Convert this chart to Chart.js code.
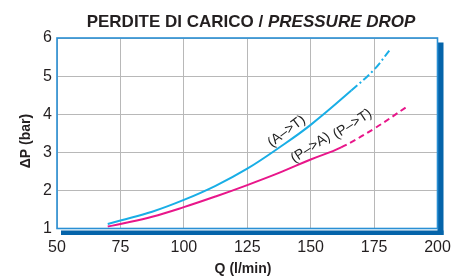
<!DOCTYPE html>
<html>
<head>
<meta charset="utf-8">
<script src="https://cdn.jsdelivr.net/npm/chart.js@4.4.1/dist/chart.umd.min.js"></script>
<style>
  html, body { margin: 0; padding: 0; background: #ffffff; }
  #wrap { width: 461px; height: 276px; position: relative; }
</style>
</head>
<body>
<div id="wrap"><canvas id="c" width="461" height="276"></canvas></div>
<script>
// ---- data ----
const xTicks = [50, 75, 100, 125, 150, 175, 200];
const yTicks = [1, 2, 3, 4, 5, 6];

// (A->T) solid part
const qAT  = [70, 75, 87.5, 100, 112.5, 125, 137.5, 150, 166];
const dpAT = [1.12, 1.21, 1.44, 1.75, 2.12, 2.57, 3.12, 3.72, 4.62];
// (A->T) dash-dot extension (continues from last solid point)
const qATx  = [175, 181];
const dpATx = [5.17, 5.67];

// (P->A) solid part
const qPA  = [70, 75, 87.5, 100, 112.5, 125, 137.5, 150, 162];
const dpPA = [1.05, 1.12, 1.31, 1.56, 1.84, 2.14, 2.46, 2.81, 3.13];
// (P->T) dashed extension (continues from last solid point)
const qPT  = [175, 188];
const dpPT = [3.62, 4.20];

const titleBold = "PERDITE DI CARICO / ";
const titleItalic = "PRESSURE DROP";
const xTitle = "Q (l/min)";
const yTitle = "\u0394P (bar)";
const labelAT = "(A\u2013>T)";
const labelPA = "(P\u2013>A)";
const labelPT = "(P\u2013>T)";

const CYAN = "#19aee6";
const PINK = "#e8168a";
const FONT = "'Liberation Sans', Arial, Helvetica, sans-serif";

function pts(xs, ys) { return xs.map((x, i) => ({ x: x, y: ys[i] })); }

function curve(qs, ds, qx, dx, color, dash) {
  const breakQ = qs[qs.length - 1];
  return {
    data: pts(qs.concat(qx), ds.concat(dx)),
    borderColor: color, borderWidth: 2,
    showLine: true, pointRadius: 0, pointHoverRadius: 0, fill: false,
    tension: 0.4,
    segment: { borderDash: ctx => (ctx.p0.parsed.x >= breakQ ? dash : undefined) }
  };
}

const decor = {
  id: 'decor',
  afterDraw(chart) {
    const ctx = chart.ctx;
    const a = chart.chartArea;
    const xs = chart.scales.x, ys = chart.scales.y;
    ctx.save();
    // thick shadow frame (right & bottom)
    ctx.fillStyle = "#0564aa";
    ctx.fillRect(a.right, a.top + 4.5, 6, a.bottom - a.top + 2);
    ctx.fillRect(a.left + 4, a.bottom + 2, a.right - a.left + 2, 4.5);
    // thin frame
    ctx.strokeStyle = "#2a8fd4";
    ctx.lineWidth = 1.6;
    ctx.strokeRect(a.left, a.top, a.right - a.left, a.bottom - a.top);

    // title
    ctx.fillStyle = "#231f20";
    ctx.textBaseline = "alphabetic";
    ctx.font = "bold 17px " + FONT;
    const w1 = ctx.measureText(titleBold).width;
    ctx.font = "italic bold 17px " + FONT;
    const w2 = ctx.measureText(titleItalic).width;
    const tx = 251 - (w1 + w2) / 2;
    ctx.font = "bold 17px " + FONT;
    ctx.textAlign = "left";
    ctx.fillText(titleBold, tx, 27);
    ctx.font = "italic bold 17px " + FONT;
    ctx.fillText(titleItalic, tx + w1, 27);

    // axis titles
    ctx.font = "bold 14px " + FONT;
    ctx.textAlign = "center";
    ctx.fillText(xTitle, 243, 273);
    ctx.save();
    ctx.translate(29.5, 141);
    ctx.rotate(-Math.PI / 2);
    ctx.fillText(yTitle, 0, 0);
    ctx.restore();

    // curve labels
    ctx.font = "14px " + FONT;
    ctx.fillStyle = "#222222";
    ctx.textBaseline = "middle";
    function lab(t, q, v, ang) {
      ctx.save();
      ctx.translate(xs.getPixelForValue(q), ys.getPixelForValue(v));
      ctx.rotate(-ang * Math.PI / 180);
      ctx.fillText(t, 0, 0);
      ctx.restore();
    }
    lab(labelAT, 140.5, 3.55, 37);
    lab(labelPA, 150, 3.12, 33);
    lab(labelPT, 166.5, 3.74, 33);
    ctx.restore();
  }
};

new Chart(document.getElementById('c'), {
  type: 'scatter',
  data: {
    datasets: [
      curve(qAT, dpAT, qATx, dpATx, CYAN, [8, 3, 2, 3]),
      curve(qPA, dpPA, qPT, dpPT, PINK, [6, 4])
    ]
  },
  options: {
    responsive: false,
    animation: false,
    events: [],
    layout: { padding: { left: 0, top: 38, right: 23.5, bottom: 0 } },
    plugins: { legend: { display: false }, tooltip: { enabled: false }, title: { display: false } },
    scales: {
      x: {
        type: 'linear', min: 50, max: 200,
        afterBuildTicks(s) { s.ticks = xTicks.map(v => ({ value: v })); },
        afterFit(s) { s.height = 47.5; },
        grid: { color: "#b8b8b8", lineWidth: 1, drawTicks: false },
        border: { display: false },
        ticks: { padding: 9, color: "#231f20", font: { family: FONT, size: 16 }, maxRotation: 0 }
      },
      y: {
        type: 'linear', min: 1, max: 6,
        afterBuildTicks(s) { s.ticks = yTicks.map(v => ({ value: v })); },
        afterFit(s) { s.width = 57; },
        grid: { color: "#b8b8b8", lineWidth: 1, drawTicks: false },
        border: { display: false },
        ticks: { padding: 5, color: "#231f20", font: { family: FONT, size: 16 } }
      }
    }
  },
  plugins: [decor]
});
</script>
</body>
</html>
